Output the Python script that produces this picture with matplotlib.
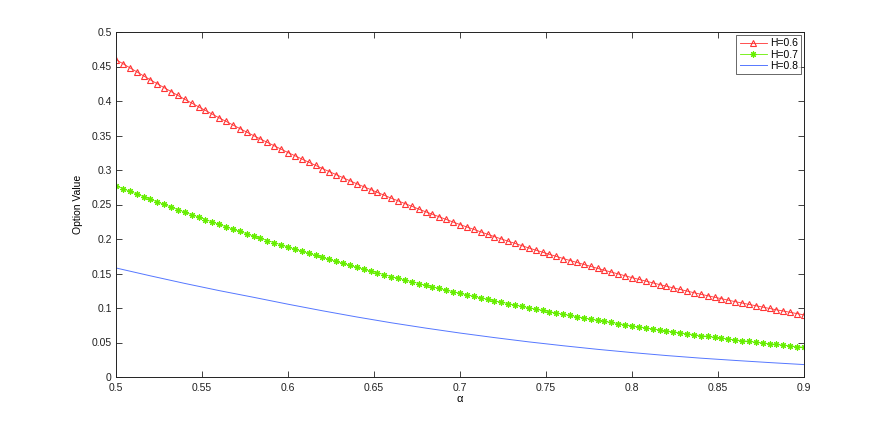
import numpy as np
import matplotlib
matplotlib.use("Agg")
import matplotlib.pyplot as plt

# alpha grid: 0.5 to 0.9 in steps of 0.004 (101 points)
alpha = np.linspace(0.5, 0.9, 101)

h06 = [0.4600, 0.4541, 0.4482, 0.4424, 0.4365,
       0.4306, 0.4250, 0.4193, 0.4137, 0.4080,
       0.4024, 0.3970, 0.3916, 0.3863, 0.3809,
       0.3755, 0.3704, 0.3652, 0.3601, 0.3549,
       0.3498, 0.3449, 0.3400, 0.3351, 0.3302,
       0.3253, 0.3207, 0.3160, 0.3114, 0.3067,
       0.3021, 0.2977, 0.2933, 0.2888, 0.2844,
       0.2800, 0.2758, 0.2717, 0.2675, 0.2634,
       0.2592, 0.2553, 0.2513, 0.2474, 0.2434,
       0.2395, 0.2358, 0.2321, 0.2283, 0.2246,
       0.2209, 0.2174, 0.2139, 0.2104, 0.2069,
       0.2034, 0.2001, 0.1968, 0.1936, 0.1903,
       0.1870, 0.1839, 0.1809, 0.1778, 0.1748,
       0.1717, 0.1688, 0.1660, 0.1631, 0.1603,
       0.1574, 0.1547, 0.1520, 0.1494, 0.1467,
       0.1440, 0.1415, 0.1390, 0.1365, 0.1340,
       0.1315, 0.1292, 0.1269, 0.1245, 0.1222,
       0.1199, 0.1178, 0.1156, 0.1135, 0.1113,
       0.1092, 0.1072, 0.1052, 0.1033, 0.1013,
       0.0993, 0.0974, 0.0956, 0.0937, 0.0919,
       0.0900]

h07 = [0.2770, 0.2731, 0.2692, 0.2653, 0.2614,
       0.2575, 0.2538, 0.2501, 0.2463, 0.2426,
       0.2389, 0.2353, 0.2318, 0.2282, 0.2247,
       0.2211, 0.2177, 0.2143, 0.2110, 0.2076,
       0.2042, 0.2010, 0.1978, 0.1947, 0.1915,
       0.1883, 0.1853, 0.1823, 0.1792, 0.1762,
       0.1732, 0.1703, 0.1675, 0.1646, 0.1618,
       0.1589, 0.1562, 0.1536, 0.1509, 0.1483,
       0.1456, 0.1431, 0.1406, 0.1380, 0.1355,
       0.1330, 0.1307, 0.1283, 0.1260, 0.1236,
       0.1213, 0.1191, 0.1169, 0.1148, 0.1126,
       0.1104, 0.1084, 0.1064, 0.1043, 0.1023,
       0.1003, 0.0984, 0.0965, 0.0947, 0.0928,
       0.0909, 0.0892, 0.0874, 0.0857, 0.0839,
       0.0822, 0.0806, 0.0790, 0.0774, 0.0758,
       0.0742, 0.0727, 0.0712, 0.0698, 0.0683,
       0.0668, 0.0654, 0.0641, 0.0627, 0.0614,
       0.0600, 0.0588, 0.0575, 0.0563, 0.0550,
       0.0538, 0.0527, 0.0516, 0.0504, 0.0493,
       0.0482, 0.0472, 0.0461, 0.0451, 0.0440,
       0.0430]

# H=0.8 is drawn as a plain line; read every 0.02
alpha_b = np.linspace(0.5, 0.9, 21)
h08 = [0.1580, 0.1466, 0.1356, 0.1252, 0.1155, 0.1055, 0.0960,
       0.0870, 0.0786, 0.0709, 0.0637, 0.0571, 0.0509, 0.0453,
       0.0401, 0.0354, 0.0311, 0.0273, 0.0240, 0.0209, 0.0180]

labels = ["H=0.6", "H=0.7", "H=0.8"]
xticks = [0.5, 0.55, 0.6, 0.65, 0.7, 0.75, 0.8, 0.85, 0.9]
yticks = [0, 0.05, 0.1, 0.15, 0.2, 0.25, 0.3, 0.35, 0.4, 0.45, 0.5]

plt.rcParams['font.family'] = ['Liberation Sans', 'DejaVu Sans']

fig = plt.figure(figsize=(8.88, 4.24), dpi=100)
ax = fig.add_axes([116/888, 47/424, 688/888, 345/424])

ax.plot(alpha, h06, color='#ff3333', lw=0.6, marker='^', ms=4.5,
        mfc='none', mec='#ff3333', mew=0.8, label=labels[0])
ax.plot(alpha, h07, color='#66ee00', lw=0.6, marker=(8, 2, 0), ms=4.5,
        mfc='#66ee00', mec='#66ee00', mew=0.8, label=labels[1])
ax.plot(alpha_b, h08, color='#5577ff', lw=0.7, label=labels[2])

ax.set_xlim(0.5, 0.9)
ax.set_ylim(0, 0.5)
ax.set_xticks(xticks)
ax.set_yticks(yticks)
ax.set_xticklabels([f"{v:g}" for v in xticks])
ax.set_yticklabels([f"{v:g}" for v in yticks])
ax.tick_params(direction='in', length=4, width=0.6, labelsize=7.5,
               top=True, right=True, colors='#222222')
ax.tick_params(axis='x', pad=4)
ax.tick_params(axis='y', pad=3)
for s in ax.spines.values():
    s.set_linewidth(0.7)
    s.set_color('#222222')

ax.set_xlabel('α', fontsize=8, labelpad=1)
ax.set_ylabel('Option Value', fontsize=7.5, labelpad=6)

leg = ax.legend(loc='upper right', fontsize=7.5, frameon=True, fancybox=False,
                edgecolor='#222222', handlelength=2.6, borderpad=0.3,
                labelspacing=0.12, handletextpad=0.3, borderaxespad=0.3)
leg.get_frame().set_linewidth(0.6)

fig.savefig('out.png', dpi=100)
